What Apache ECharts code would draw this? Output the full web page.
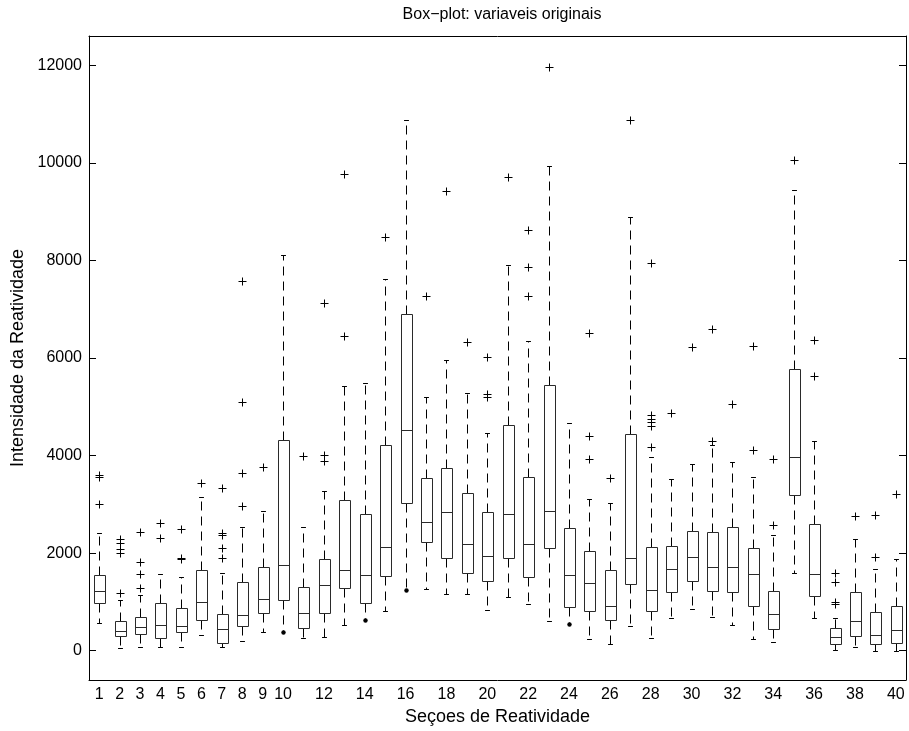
<!DOCTYPE html>
<html>
<head>
<meta charset="utf-8">
<script src="https://cdn.jsdelivr.net/npm/echarts@6/dist/echarts.min.js"></script>
<style>
html,body{margin:0;padding:0;background:#fff;}
#chart{width:909px;height:731px;}
</style>
</head>
<body>
<div id="chart"></div>
<script>
// ---- data ----
const categories = ['1','2','3','4','5','6','7','8','9','10','11','12','13','14','15','16','17','18','19','20',
                    '21','22','23','24','25','26','27','28','29','30','31','32','33','34','35','36','37','38','39','40'];
const whiskerLow  = [566, 55, 75, 68, 68, 327, 68, 204, 382, 374, 260, 280, 525, 634, 818, 1247, 1268, 1172, 1172, 838,
                     1111, 955, 600, 546, 245, 129, 505, 260, 681, 852, 695, 532, 245, 177, 1602, 681, 6, 68, 0, 0];
const quart1      = [982, 293, 333, 266, 375, 620, 157, 511, 771, 1043, 464, 771, 1282, 975, 1540, 3033, 2235, 1895, 1589, 1438,
                     1895, 1520, 2112, 900, 812, 640, 1364, 824, 1213, 1431, 1233, 1200, 920, 443, 3190, 1125, 137, 307, 137, 150];
const medians     = [1233, 395, 477, 532, 497, 1009, 443, 730, 1057, 1759, 771, 1344, 1656, 1548, 2133, 4534, 2632, 2849, 2182, 1937,
                     2808, 2188, 2863, 1548, 1384, 926, 1895, 1254, 1677, 1922, 1711, 1711, 1581, 750, 3967, 1568, 280, 607, 313, 415];
const quart3      = [1554, 600, 689, 988, 873, 1656, 757, 1417, 1724, 4315, 1315, 1881, 3081, 2802, 4227, 6892, 3544, 3749, 3225, 2836,
                     4628, 3565, 5454, 2509, 2039, 1650, 4451, 2120, 2147, 2460, 2427, 2542, 2112, 1221, 5767, 2597, 464, 1200, 791, 926];
const whiskerHigh = [2420, 1043, 1145, 1568, 1520, 3156, 1588, 2542, 2869, 8119, 2542, 3265, 5425, 5487, 7621, 10879, 5200, 5966, 5282, 4464,
                     7900, 6346, 9939, 4669, 3102, 3020, 8896, 3961, 3517, 3824, 4210, 3865, 3552, 2372, 9441, 4307, 669, 2284, 1680, 1870];
// categories whose lower whisker ends in a dot
const dotLowCats = [10, 14, 16, 24];
// outliers: [category, value]
const outliers = [
  [1,3600],[1,3570],[1,3006],
  [2,2300],[2,2200],[2,2080],[2,2000],[2,1180],
  [3,2427],[3,1814],[3,1575],[3,1282],
  [4,2624],[4,2311],
  [5,2495],[5,1910],[5,1880],
  [6,3442],
  [7,3340],[7,2420],[7,2380],[7,2100],[7,1895],
  [8,7580],[8,5098],[8,3640],[8,2965],
  [9,3756],
  [11,3988],
  [12,7122],[12,4020],[12,3880],
  [13,9769],[13,6442],
  [15,8473],
  [17,7280],
  [18,9427],
  [19,6325],
  [20,6019],[20,5260],[20,5200],
  [21,9700],
  [22,8623],[22,7873],[22,7274],
  [23,11970],
  [25,6510],[25,4397],[25,3940],
  [26,3545],
  [27,10879],
  [28,7941],[28,4840],[28,4759],[28,4690],[28,4601],[28,4178],
  [29,4873],
  [30,6223],
  [31,6585],[31,4294],
  [32,5051],
  [33,6244],[33,4110],
  [34,3933],[34,2570],
  [35,10055],
  [36,6374],[36,5630],
  [37,1602],[37,1417],[37,990],[37,960],
  [38,2761],
  [39,2790],[39,1920],
  [40,3220]
];
const yTicks = [0, 2000, 4000, 6000, 8000, 10000, 12000];
const labelledIdx = i => i < 10 || i % 2 === 1;

// ---- build series data ----
const boxData = categories.map((c, i) => [i, whiskerLow[i], quart1[i], medians[i], quart3[i], whiskerHigh[i],
                                          dotLowCats.indexOf(i + 1) >= 0 ? 1 : 0]);
const outData = outliers.map(o => [o[0] - 1, o[1]]);

const FONT = '"Liberation Sans", Arial, Helvetica, sans-serif';
const px = v => Math.round(v) + 0.5;

function renderBox(params, api) {
  const i = api.value(0);
  const w = api.size([1, 0])[0];
  const half = w * 0.26, capHalf = w * 0.12;
  const cx = px(api.coord([i, 0])[0]);
  const yLo = px(api.coord([i, api.value(1)])[1]);
  const yA = px(api.coord([i, api.value(2)])[1]);
  const yM = px(api.coord([i, api.value(3)])[1]);
  const yB = px(api.coord([i, api.value(4)])[1]);
  const yHi = px(api.coord([i, api.value(5)])[1]);
  const dot = api.value(6);
  const x0 = Math.round(cx - half) + 0.5, x1 = Math.round(cx + half) + 0.5;
  const boxStyle = {stroke: '#2a2a2a', fill: null, lineWidth: 1};
  const dashStyle = {stroke: '#000', lineWidth: 1, lineDash: [9, 6]};
  const solid = {stroke: '#000', lineWidth: 1};
  const children = [
    {type: 'line', shape: {x1: cx, y1: yB, x2: cx, y2: yHi}, style: dashStyle},
    {type: 'line', shape: {x1: cx, y1: yA, x2: cx, y2: yLo}, style: dashStyle},
    {type: 'line', shape: {x1: cx - capHalf, y1: yHi, x2: cx + capHalf, y2: yHi}, style: solid},
    {type: 'rect', shape: {x: x0, y: yB, width: x1 - x0, height: yA - yB}, style: boxStyle},
    {type: 'line', shape: {x1: x0, y1: yM, x2: x1, y2: yM}, style: boxStyle}
  ];
  if (dot) {
    children.push({type: 'circle', shape: {cx: cx, cy: yLo, r: 2.2}, style: {fill: '#000'}});
  } else {
    children.push({type: 'line', shape: {x1: cx - capHalf, y1: yLo, x2: cx + capHalf, y2: yLo}, style: solid});
  }
  return {type: 'group', children: children};
}

function renderPlus(params, api) {
  const p = api.coord([api.value(0), api.value(1)]);
  const x = px(p[0]), y = px(p[1]), s = 4;
  const st = {stroke: '#000', lineWidth: 1};
  return {type: 'group', children: [
    {type: 'line', shape: {x1: x - s, y1: y, x2: x + s, y2: y}, style: st},
    {type: 'line', shape: {x1: x, y1: y - s, x2: x, y2: y + s}, style: st}
  ]};
}

const chart = echarts.init(document.getElementById('chart'), null, {renderer: 'canvas'});
const axisLineStyle = {color: '#000', width: 1};
chart.setOption({
  animation: false,
  backgroundColor: '#fff',
  textStyle: {fontFamily: FONT},
  title: {
    text: 'Box\u2212plot: variaveis originais',
    left: 497, top: 2, textAlign: 'center',
    textStyle: {fontFamily: FONT, fontSize: 16, fontWeight: 'normal', color: '#000'}
  },
  grid: {left: 89, right: 3, top: 36, bottom: 50, containLabel: false},
  xAxis: [{
    type: 'category', data: categories, boundaryGap: true,
    name: 'Seçoes de Reatividade', nameLocation: 'middle', nameGap: 28,
    nameTextStyle: {fontFamily: FONT, fontSize: 18, color: '#000'},
    axisLine: {onZero: false, lineStyle: axisLineStyle},
    axisTick: {inside: true, length: 7, alignWithLabel: true, interval: (i) => labelledIdx(i), lineStyle: axisLineStyle},
    axisLabel: {interval: (i) => labelledIdx(i), color: '#000', fontFamily: FONT, fontSize: 16, margin: 7},
    splitLine: {show: false}
  }, {
    type: 'category', data: categories, boundaryGap: true, position: 'top',
    axisLine: {onZero: false, lineStyle: axisLineStyle},
    axisTick: {inside: true, length: 7, alignWithLabel: true, interval: (i) => labelledIdx(i), lineStyle: axisLineStyle},
    axisLabel: {show: false}, splitLine: {show: false}
  }],
  yAxis: [{
    type: 'value', min: -600, max: 12600,
    name: 'Intensidade da Reatividade', nameLocation: 'middle', nameGap: 61, nameRotate: 90,
    nameTextStyle: {fontFamily: FONT, fontSize: 18, color: '#000'},
    axisLine: {show: true, onZero: false, lineStyle: axisLineStyle},
    axisTick: {show: true, inside: true, length: 7, customValues: yTicks, lineStyle: axisLineStyle},
    axisLabel: {customValues: yTicks, formatter: v => String(v), color: '#000', fontFamily: FONT, fontSize: 16, margin: 7},
    splitLine: {show: false}
  }, {
    type: 'value', min: -600, max: 12600, position: 'right',
    axisLine: {show: true, onZero: false, lineStyle: axisLineStyle},
    axisTick: {show: true, inside: true, length: 7, customValues: yTicks, lineStyle: axisLineStyle},
    axisLabel: {show: false, customValues: yTicks},
    splitLine: {show: false}
  }],
  series: [{
    type: 'custom', name: 'box', xAxisIndex: 0, yAxisIndex: 0,
    renderItem: renderBox, data: boxData,
    encode: {x: 0, y: [1, 2, 3, 4, 5]}, clip: false
  }, {
    type: 'custom', name: 'outliers', xAxisIndex: 0, yAxisIndex: 0,
    renderItem: renderPlus, data: outData,
    encode: {x: 0, y: 1}, clip: false
  }]
});
</script>
</body>
</html>
